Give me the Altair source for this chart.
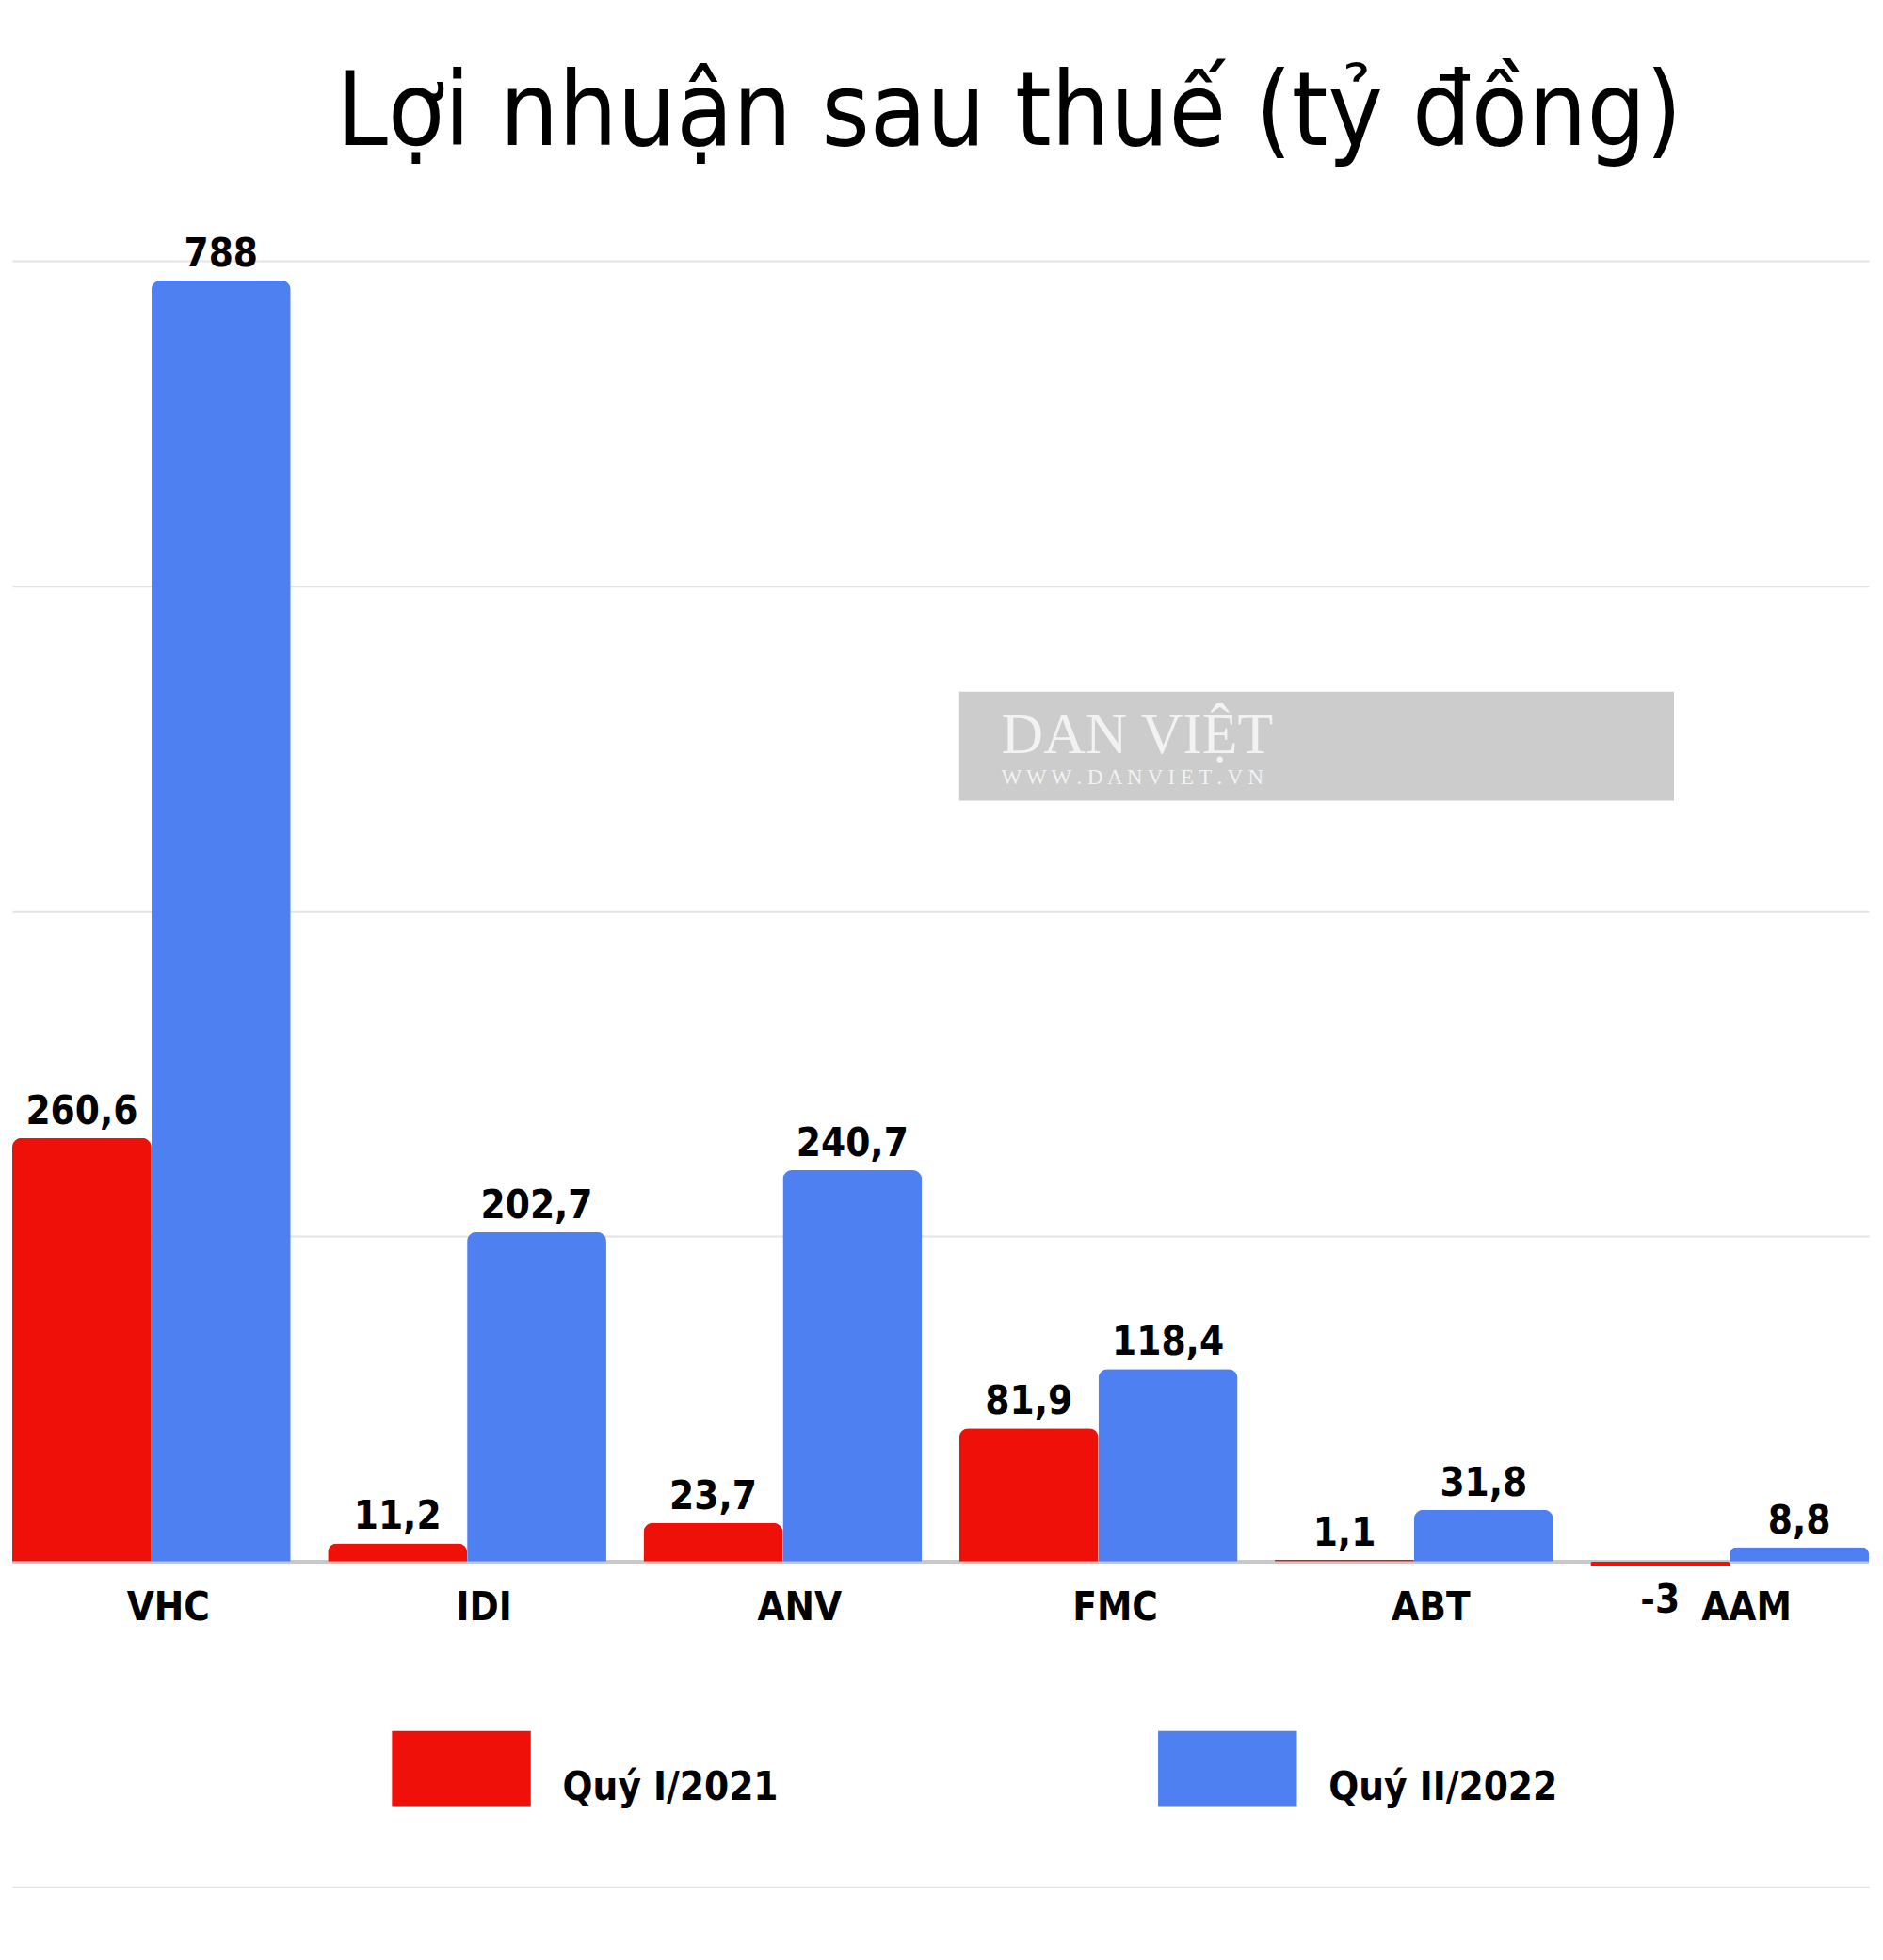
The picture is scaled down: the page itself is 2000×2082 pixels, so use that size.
import altair as alt
import pandas as pd

# ---- data ----
categories = ["VHC", "IDI", "ANV", "FMC", "ABT", "AAM"]
series_names = ["Quý I/2021", "Quý II/2022"]
q1_2021 = [260.6, 11.2, 23.7, 81.9, 1.1, -3]
q2_2022 = [788, 202.7, 240.7, 118.4, 31.8, 8.8]
grid_values = [-200, 200, 400, 600, 800]
colors = ["#ee1009", "#4f80f2"]
title_text = "Lợi nhuận sau thuế (tỷ đồng)"

# watermark (Dân Việt) box, in data terms
wm_box_x = ["FMC", "AAM"]
wm_box_y = [468, 535]
wm_brand = "DAN VIỆT"
wm_site = "W W W . D A N V I E T . V N"

rows = []
for s, vals in zip(series_names, [q1_2021, q2_2022]):
    for c, v in zip(categories, vals):
        rows.append({"cat": c, "series": s, "value": v,
                     "label": f"{v:g}".replace(".", ",")})
df = pd.DataFrame(rows)

FONT = "DejaVu Sans Condensed, Roboto, sans-serif"

x_enc = alt.X("cat:N", sort=categories,
              scale=alt.Scale(paddingInner=0.118, paddingOuter=0),
              axis=alt.Axis(title=None, orient="bottom", offset=-347, domain=False,
                            grid=False, ticks=False, labelPadding=29, labelOffset=18,
                            labelFont=FONT, labelFontSize=42, labelFontWeight="bold",
                            labelColor="black", labelAngle=0))
xo_enc = alt.XOffset("series:N", sort=series_names,
                     scale=alt.Scale(paddingInner=0, paddingOuter=0))
y_enc = alt.Y("value:Q", scale=alt.Scale(domain=[-200, 800], nice=False, zero=False),
              axis=alt.Axis(title=None, values=grid_values, grid=True, labels=False,
                            ticks=False, domain=False, gridColor="#e4e4e4", gridWidth=2))

base = alt.Chart(df)

baseline = base.mark_rule(color="#c8c8c8", strokeWidth=3).encode(y=alt.datum(0))

bars = base.mark_bar(cornerRadiusTopLeft=10, cornerRadiusTopRight=10).encode(
    x=x_enc, xOffset=xo_enc, y=y_enc,
    color=alt.Color("series:N", sort=series_names,
                    scale=alt.Scale(domain=series_names, range=colors),
                    legend=alt.Legend(title=None, orient="none", direction="horizontal",
                                      legendX=405, legendY=1534,
                                      symbolType="M-1,-0.54L1,-0.54L1,0.54L-1,0.54Z",
                                      symbolSize=21904, symbolStrokeWidth=0,
                                      symbolOpacity=1,
                                      labelFont=FONT, labelFontSize=42,
                                      labelFontWeight="bold", labelColor="black",
                                      labelBaseline="top",
                                      labelOffset=34, columnPadding=405,
                                      labelLimit=600, padding=0)),
)

labels_pos = base.transform_filter("datum.value >= 0").mark_text(
    font=FONT, fontSize=42, fontWeight="bold", color="black",
    baseline="alphabetic", dy=-15).encode(
    x=alt.X("cat:N", sort=categories), xOffset=alt.XOffset("series:N", sort=series_names),
    y="value:Q", text="label:N")

labels_neg = base.transform_filter("datum.value < 0").mark_text(
    font=FONT, fontSize=42, fontWeight="bold", color="black",
    baseline="top", dy=16).encode(
    x=alt.X("cat:N", sort=categories), xOffset=alt.XOffset("series:N", sort=series_names),
    y="value:Q", text="label:N")

wm_rect = alt.Chart(pd.DataFrame({"a": [0]})).mark_rect(color="#cccccc").encode(
    x=alt.XDatum(wm_box_x[0], bandPosition=0),
    x2=alt.X2Datum(wm_box_x[1], bandPosition=0.3),
    y=alt.YDatum(wm_box_y[0]), y2=alt.Y2Datum(wm_box_y[1]))

wm_t1 = alt.Chart(pd.DataFrame({"a": [0]})).mark_text(
    align="left", baseline="alphabetic", dx=45, font="Liberation Serif",
    fontSize=62, color="#f2f2f2", text=wm_brand).encode(
    x=alt.XDatum(wm_box_x[0], bandPosition=0), y=alt.YDatum(497))

wm_t2 = alt.Chart(pd.DataFrame({"a": [0]})).mark_text(
    align="left", baseline="alphabetic", dx=45, font="Liberation Serif",
    fontSize=23, color="#f2f2f2", text=wm_site).encode(
    x=alt.XDatum(wm_box_x[0], bandPosition=0), y=alt.YDatum(478))

chart = alt.layer(baseline, bars, labels_pos, labels_neg, wm_rect, wm_t1, wm_t2).properties(
    width=1980, height=1734,
    background="white",
    padding={"left": 5, "top": 266, "right": 7, "bottom": 74},
    autosize=alt.AutoSizeParams(type="none"),
    title=alt.TitleParams(title_text, font=FONT, fontSize=110, fontWeight="normal",
                          color="black", anchor="middle", dx=73, dy=108, offset=93,
                          baseline="alphabetic"),
).configure_view(strokeWidth=0, stroke="transparent")

chart.save("out.html", embed_options={"renderer": "svg", "actions": False})
